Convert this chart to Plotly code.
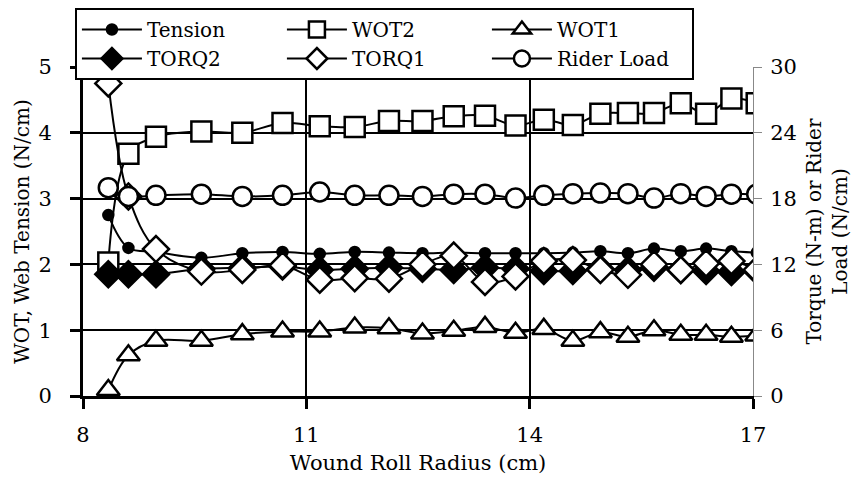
import plotly.graph_objects as go

# wound roll radius (cm); the last point sits just past the axis end
radius = [8.34, 8.61, 8.98, 9.59, 10.14, 10.68, 11.18, 11.65, 12.11, 12.56, 12.98,
          13.40, 13.81, 14.19, 14.58, 14.95, 15.32, 15.67, 16.03, 16.37, 16.71, 17.05]

# left axis (N/cm)
tension = [2.75, 2.25, 2.19, 2.10, 2.17, 2.19, 2.16, 2.19, 2.18, 2.17, 2.18,
           2.17, 2.17, 2.17, 2.18, 2.20, 2.17, 2.24, 2.20, 2.24, 2.20, 2.18]
wot2 = [2.03, 3.68, 3.94, 4.02, 4.00, 4.15, 4.10, 4.09, 4.18, 4.18, 4.25,
        4.26, 4.11, 4.20, 4.12, 4.29, 4.30, 4.30, 4.45, 4.29, 4.52, 4.45]
wot1 = [0.09, 0.62, 0.84, 0.84, 0.94, 0.98, 0.98, 1.04, 1.03, 0.95, 0.99,
        1.05, 0.96, 1.02, 0.84, 0.97, 0.90, 1.00, 0.93, 0.93, 0.90, 0.92]

# right axis (N-m or N/cm)
torq2 = [11.1, 11.1, 11.1, 11.6, 11.7, 11.8, 11.5, 11.6, 11.7, 11.6, 11.5,
         11.7, 11.6, 11.4, 11.4, 11.6, 11.5, 11.7, 11.5, 11.4, 11.3, 11.4]
torq1 = [28.5, 18.2, 13.4, 11.35, 11.5, 11.9, 10.6, 10.75, 10.7, 12.0, 12.8,
         10.4, 10.9, 12.3, 12.4, 11.5, 11.05, 12.0, 11.5, 12.1, 12.3, 11.5]
rider_load = [19.0, 18.2, 18.3, 18.4, 18.2, 18.3, 18.6, 18.3, 18.3, 18.2, 18.4,
              18.4, 18.05, 18.3, 18.45, 18.5, 18.45, 18.05, 18.45, 18.2, 18.4, 18.4]

x_ticks = [8, 11, 14, 17]

FONT = "DejaVu Serif"

series = [
    ("Tension", tension, "y", "circle", 10, "black"),
    ("WOT2", wot2, "y", "square", 20, "white"),
    ("WOT1", wot1, "y", "triangle-up", 20, "white"),
    ("TORQ2", torq2, "y2", "diamond", 20, "black"),
    ("TORQ1", torq1, "y2", "diamond", 20, "white"),
    ("Rider Load", rider_load, "y2", "circle", 19, "white"),
]

fig = go.Figure()
for name, vals, axis, symbol, size, fill in series:
    fig.add_trace(go.Scatter(
        x=radius, y=vals, yaxis=axis, name=name,
        mode="lines+markers",
        line=dict(color="black", width=2, shape="spline"),
        marker=dict(symbol=symbol, size=size, color=fill,
                    line=dict(color="black", width=2.5)),
    ))

# the page body adds an 8px margin, so the figure is 8px smaller than the window
fig.update_layout(
    width=858, height=479,
    margin=dict(l=75, r=113, t=59, b=91, autoexpand=False),
    paper_bgcolor="white", plot_bgcolor="white",
    font=dict(family=FONT, size=21, color="black"),
    legend=dict(
        orientation="h", x=0.078, xref="container", y=1.0, yref="container",
        xanchor="left", yanchor="top",
        bgcolor="white", bordercolor="black", borderwidth=2,
        entrywidth=130, entrywidthmode="pixels", itemwidth=60,
        font=dict(family=FONT, size=20), tracegroupgap=0,
    ),
    xaxis=dict(
        range=[8, 17], tickvals=x_ticks, automargin=False,
        title=dict(text="Wound Roll Radius (cm)", font=dict(size=21), standoff=10),
        showgrid=True, gridcolor="black", gridwidth=2,
        showline=True, linecolor="black", linewidth=3,
        ticks="outside", ticklen=10, tickwidth=3, tickcolor="black",
        ticklabelstandoff=8, zeroline=False,
    ),
    yaxis=dict(
        range=[0, 5], dtick=1, automargin=False,
        title=dict(text="WOT, Web Tension (N/cm)", font=dict(size=20), standoff=4),
        showgrid=True, gridcolor="black", gridwidth=2,
        showline=True, linecolor="black", linewidth=3,
        ticks="outside", ticklen=10, tickwidth=3, tickcolor="black",
        ticklabelstandoff=14, zeroline=False,
    ),
    yaxis2=dict(
        overlaying="y", side="right", range=[0, 30], dtick=6, automargin=False,
        title=dict(text="Torque (N-m) or Rider<br>Load (N/cm)", font=dict(size=20), standoff=11),
        showgrid=False, showline=True, linecolor="#888888", linewidth=1,
        ticks="outside", ticklen=8, tickwidth=1, tickcolor="#888888",
        ticklabelstandoff=4, zeroline=False,
    ),
)

fig.write_html("out.html")
